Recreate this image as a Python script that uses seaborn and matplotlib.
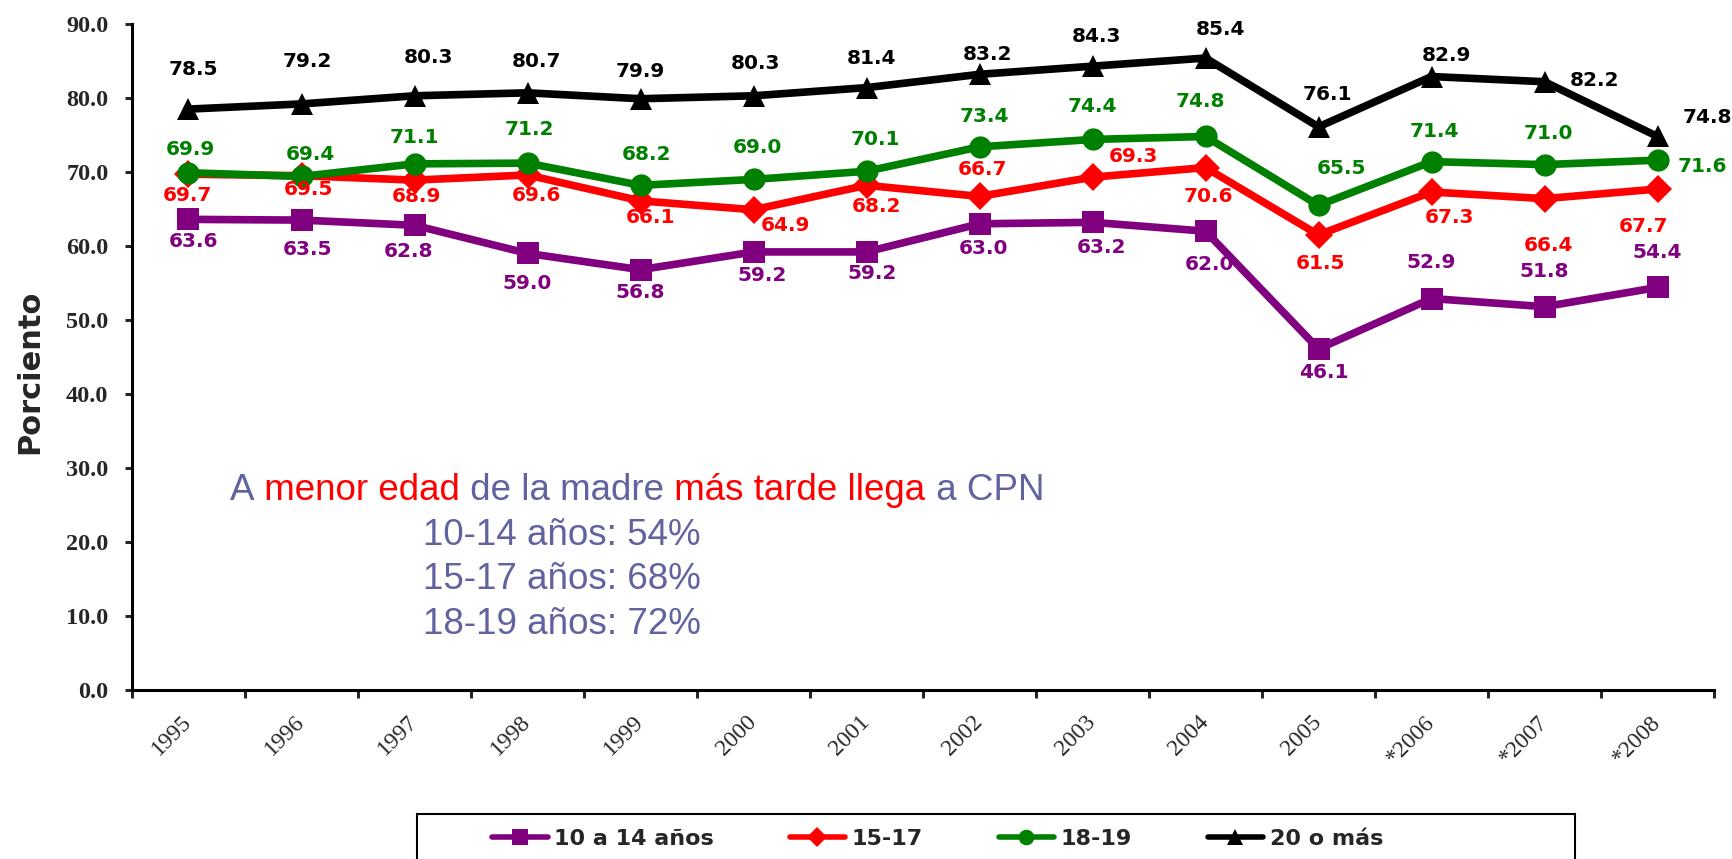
import matplotlib
matplotlib.use("Agg")
import matplotlib.pyplot as plt
import seaborn as sns
import numpy as np
import pandas as pd
from matplotlib.lines import Line2D
from matplotlib.patches import Rectangle


years = ["1995", "1996", "1997", "1998", "1999", "2000", "2001",
         "2002", "2003", "2004", "2005", "*2006", "*2007", "*2008"]

groups = ["10 a 14 años", "15-17", "18-19", "20 o más"]

edad_10_14 = [63.6, 63.5, 62.8, 59.0, 56.8, 59.2, 59.2, 63.0, 63.2, 62.0, 46.1, 52.9, 51.8, 54.4]
edad_15_17 = [69.7, 69.5, 68.9, 69.6, 66.1, 64.9, 68.2, 66.7, 69.3, 70.6, 61.5, 67.3, 66.4, 67.7]
edad_18_19 = [69.9, 69.4, 71.1, 71.2, 68.2, 69.0, 70.1, 73.4, 74.4, 74.8, 65.5, 71.4, 71.0, 71.6]
edad_20_mas = [78.5, 79.2, 80.3, 80.7, 79.9, 80.3, 81.4, 83.2, 84.3, 85.4, 76.1, 82.9, 82.2, 74.8]

series = [edad_10_14, edad_15_17, edad_18_19, edad_20_mas]

# label offsets in pixels (dx right, dy down) as placed in the original slide
offs_10_14 = [(5, 22), (6, 29), (-6, 26), (0, 30), (0, 23), (9, 24), (6, 22),
              (4, 25), (9, 25), (4, 33), (5, 24), (0, -36), (0, -35), (0, -35)]
offs_15_17 = [(-1, 21), (7, 14), (2, 16), (9, 21), (10, 17), (32, 16), (10, 21),
              (3, -27), (41, -21), (3, 29), (2, 29), (18, 26), (4, 47), (-14, 37)]
offs_18_19 = [(2, -23), (9, -22), (0, -26), (2, -34), (6, -31), (4, -32), (9, -32),
              (5, -30), (0, -33), (-5, -35), (23, -37), (3, -30), (4, -31), (45, 6)]
offs_20_mas = [(5, -40), (6, -42), (14, -38), (9, -31), (0, -27), (2, -32), (5, -29),
               (8, -20), (4, -30), (15, -29), (9, -32), (15, -21), (50, -1), (50, -19)]
label_offsets = [offs_10_14, offs_15_17, offs_18_19, offs_20_mas]

colors = ["#800080", "#ff0000", "#008000", "#000000"]
markers = ["s", "D", "o", "^"]
marker_sizes = [16, 14, 16, 16]

text_col = "#6262a0"

df = pd.DataFrame({
    "year": years * len(groups),
    "grupo": np.repeat(groups, len(years)),
    "valor": np.concatenate(series),
})

sns.set_style("ticks")
plt.rcParams["font.family"] = ["DejaVu Sans"]

W, H = 1733, 859
fig = plt.figure(figsize=(W / 100, H / 100), dpi=100)
ax = fig.add_axes([132 / W, 1 - 690 / H, (1714 - 132) / W, (690 - 24) / H])

sns.lineplot(
    data=df, x="year", y="valor", hue="grupo", style="grupo",
    hue_order=groups, style_order=groups,
    palette=colors, markers=markers, dashes=False,
    linewidth=5.5, legend=False, ax=ax,
)

for line, col, ms in zip(ax.lines, colors, marker_sizes):
    line.set_markersize(ms)
    line.set_markeredgecolor(col)
    line.set_markerfacecolor(col)
    line.set_markeredgewidth(0)

for vals, offs, col in zip(series, label_offsets, colors):
    for i, (v, (dx, dy)) in enumerate(zip(vals, offs)):
        ax.annotate(f"{v:.1f}", xy=(i, v), xytext=(dx, -dy),
                    textcoords="offset pixels", ha="center", va="center",
                    color=col, fontsize=14.5, fontweight="bold",
                    annotation_clip=False, zorder=5)

ax.set_xlim(-0.5, len(years) - 0.5)
ax.set_ylim(0, 90)
ax.set_yticks(np.arange(0, 91, 10))
ax.set_yticklabels([f"{t:.1f}" for t in np.arange(0, 91, 10)],
                   family="Liberation Serif", fontweight="bold", fontsize=17.5)
ax.tick_params(axis="y", length=5, width=2.2, pad=12)

# ticks between categories, labels at category centres
ax.set_xticks(np.arange(-0.5, len(years), 1))
ax.set_xticklabels([])
ax.set_xticks(np.arange(len(years)), minor=True)
ax.set_xticklabels(years, minor=True, rotation=45, ha="right", va="center",
                   rotation_mode="anchor", family="Liberation Serif", fontsize=17)
ax.tick_params(axis="x", which="major", length=6, width=2.2)
ax.tick_params(axis="x", which="minor", length=0, pad=21)

ax.set_xlabel("")
ax.set_ylabel("")
for s in ["top", "right"]:
    ax.spines[s].set_visible(False)
for s in ["left", "bottom"]:
    ax.spines[s].set_linewidth(2.2)
    ax.spines[s].set_color("black")

fig.text(30 / W, 1 - 372 / H, "Porciento", rotation=90, ha="center", va="center",
         fontsize=22, fontweight="bold")

# commentary text
segments = [("A", text_col), (" menor edad", "#ff0000"), (" de la madre", text_col),
            (" más tarde llega", "#ff0000"), (" a CPN", text_col)]
prev = fig.text(230 / W, 1 - 500 / H, segments[0][0], color=segments[0][1],
                family="Liberation Sans", fontsize=26.5, va="baseline", ha="left")
for txt, col in segments[1:]:
    prev = ax.annotate(txt, xy=(1, 0), xycoords=prev, va="bottom", ha="left",
                       color=col, family="Liberation Sans", fontsize=26.5)

resumen = ["10-14 años: 54%", "15-17 años: 68%", "18-19 años: 72%"]
for txt, yb in zip(resumen, [545, 589, 634]):
    fig.text(423 / W, 1 - yb / H, txt, color=text_col, family="Liberation Sans",
             fontsize=26.5, va="baseline", ha="left")

# legend
fig.patches.append(Rectangle((417 / W, -0.1), (1575 - 417) / W, 0.1 + 1 - 814 / H,
                             transform=fig.transFigure, fill=False,
                             edgecolor="black", linewidth=1.5))
handles = [Line2D([], [], color=c, marker=m, markersize=ms * 0.7, linewidth=4,
                  markeredgewidth=0)
           for c, m, ms in zip(colors, markers, marker_sizes)]
fig.legend(handles, groups, loc="center left", bbox_to_anchor=(492 / W, 1 - 839 / H),
           ncol=4, frameon=False, borderpad=0, borderaxespad=0,
           handlelength=2.5, handletextpad=0.3, columnspacing=3.4,
           prop={"family": "DejaVu Sans", "weight": "bold", "size": 16})

fig.savefig("out.png", dpi=100)
plt.close(fig)
